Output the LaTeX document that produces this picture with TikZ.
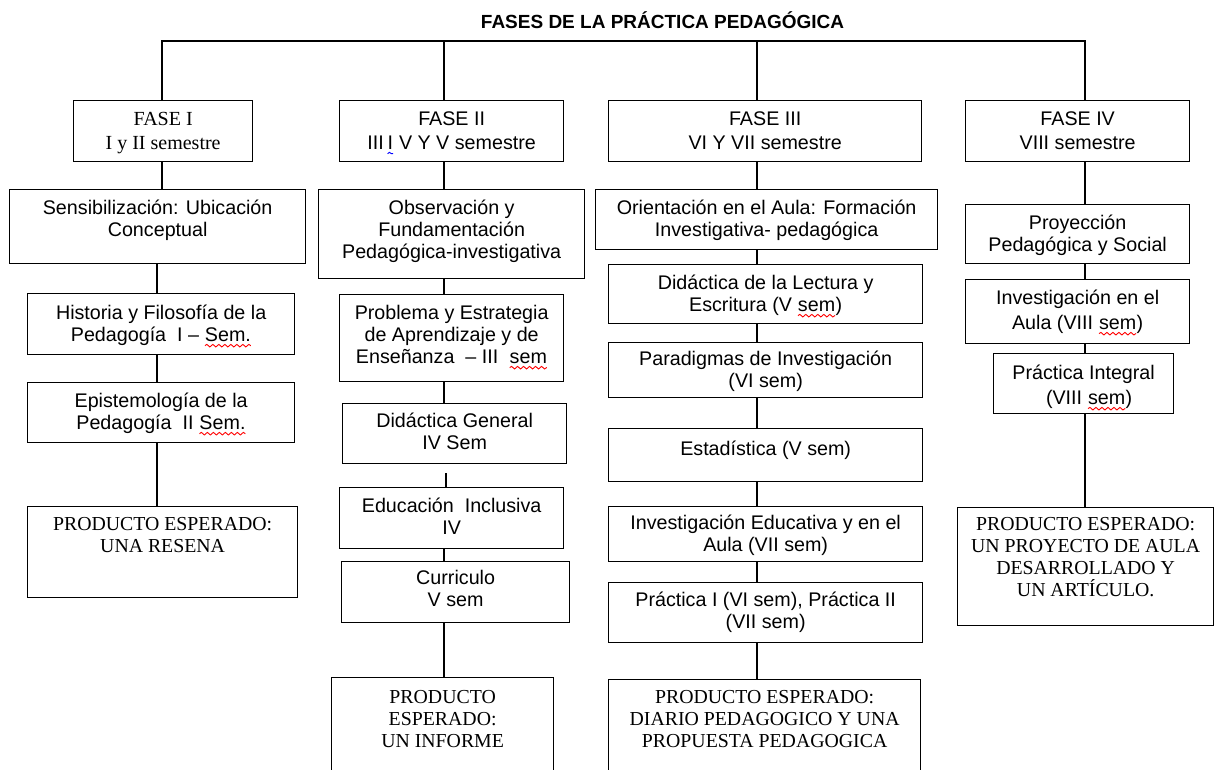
\documentclass[tikz,border=0pt]{standalone}
\usepackage{fontspec}
\setmainfont{Liberation Serif}
\setsansfont{Liberation Sans}
\usetikzlibrary{decorations.pathmorphing}
\newcommand\wavemark[2]{\tikz[baseline=(sq.base)]{\node[inner sep=0pt,outer sep=0pt] (sq) {#2};
  \draw[#1,line width=0.9pt,decorate,decoration={snake,amplitude=1.3pt,segment length=6pt}]
  ([yshift=-4pt]sq.base west) -- ([yshift=-4pt]sq.base east);}}
\newcommand\rwave[1]{\wavemark{red}{#1}}
\newcommand\bwave[1]{\wavemark{blue}{#1}}
\tikzset{
  box/.style={draw=black, line width=1.3pt, inner sep=0pt, fill=white,
    font=\sffamily\fontsize{19.7}{22}\selectfont},
  fasebox/.style={font=\sffamily\fontsize{19.7}{24}\selectfont},
  serifbox/.style={font=\rmfamily\fontsize{19.8}{22}\selectfont},
  seriffase/.style={font=\rmfamily\fontsize{20}{24}\selectfont},
  widebox/.style={font=\sffamily\fontsize{19.7}{25}\selectfont},
  conn/.style={draw=black, line width=1.3pt},
  titlestyle/.style={font=\sffamily\bfseries\fontsize{19}{22}\selectfont, inner sep=0pt}
}
% #1 style, #2 name, #3 x1, #4 y1, #5 x2, #6 y2, #7 centre of first text line, #8 text
\newcommand\bx[8][]{%
  \node[box,#1,anchor=north west] (#2) at (#3,#4)
  {\parbox[b][\dimexpr #6pt-#4pt\relax][t]{\dimexpr #5pt-#3pt\relax}{\centering
   \vspace*{\dimexpr #7pt-#4pt-12pt\relax}\rule{0pt}{19pt}#8\par}};}
\begin{document}
\begin{tikzpicture}[x=1pt,y=-1pt]
\useasboundingbox (0,0) rectangle (1214,769);
\fill[white] (0,0) rectangle (1214,769);
\clip (0,0) rectangle (1214,769);

\node[titlestyle, anchor=base] (title) at (662.5,28) {FASES DE LA PRÁCTICA PEDAGÓGICA};

% column x positions of connectors
\coordinate (top) at (0,41);
\coordinate (xa) at (162,0);
\coordinate (xb) at (157,0);
\coordinate (xc) at (444,0);
\coordinate (xd) at (757,0);
\coordinate (xe) at (1085,0);

% FASE boxes
\bx[seriffase]{F1}{73}{100}{252}{161}{118}{FASE I\\I y II semestre}
\bx[fasebox]{F2}{339}{100}{563}{161}{118}{FASE II\\III\,\bwave{I} V Y V semestre}
\bx[fasebox]{F3}{608}{100}{921}{161}{118}{FASE III\\VI Y VII semestre}
\bx[fasebox]{F4}{965}{100}{1189}{161}{118}{FASE IV\\VIII semestre}

% Column I
\bx{S1}{9}{189}{305}{263}{207}{Sensibilización: Ubicación\\Conceptual}
\bx{H1}{27}{293}{294}{354}{312}{Historia y Filosofía de la\\Pedagogía\ \ I – \rwave{Sem.}}
\bx{E1}{27}{382}{294}{442}{400}{Epistemología de la\\Pedagogía\ \ II \rwave{Sem.}}
\bx[serifbox]{P1}{27}{506}{297}{597}{523}{PRODUCTO ESPERADO:\\UNA RESENA}

% Column II
\bx{O2}{318}{189}{584}{278}{207}{Observación y\\Fundamentación\\Pedagógica-investigativa}
\bx{Pr2}{339}{294}{563}{381}{312}{Problema y Estrategia\\de Aprendizaje y de\\Enseñanza\ \ – III\ \ \rwave{sem}}
\bx{D2}{342}{403}{566}{463}{420}{Didáctica General\\IV Sem}
\bx{Ed2}{339}{487}{563}{548}{505}{Educación\ \ Inclusiva\\IV}
\bx{C2}{341}{561}{569}{622}{577}{Curriculo\\V sem}
\bx[serifbox]{PR2}{331}{677}{553}{790}{696}{PRODUCTO\\ESPERADO:\\UN INFORME}

% Column III
\bx{O3}{595}{189}{937}{249}{207}{Orientación en el Aula: Formación\\Investigativa- pedagógica}
\bx{L3}{608}{264}{922}{323}{282}{Didáctica de la Lectura y\\Escritura (V \rwave{sem})}
\bx{Pa3}{608}{342}{922}{397}{358}{Paradigmas de Investigación\\(VI sem)}
\bx{Es3}{608}{428}{922}{481}{448}{Estadística (V sem)}
\bx{IE3}{608}{506}{922}{561}{522}{Investigación Educativa y en el\\Aula (VII sem)}
\bx{PI3}{608}{582}{922}{642}{599}{Práctica I (VI sem), Práctica II\\(VII sem)}
\bx[serifbox]{PR3}{608}{679}{920}{790}{696}{PRODUCTO ESPERADO:\\DIARIO PEDAGOGICO Y UNA\\PROPUESTA PEDAGOGICA}

% Column IV
\bx{Py4}{965}{204}{1189}{263}{222}{Proyección\\Pedagógica y Social}
\bx[widebox]{IA4}{965}{279}{1189}{343}{297}{Investigación en el\\Aula (VIII \rwave{sem})}
\bx[widebox]{PIn4}{993}{353}{1173}{413}{372}{Práctica Integral\\\ \ (VIII \rwave{sem})}
\bx[serifbox]{PR4}{957}{507}{1213}{625}{523}{PRODUCTO ESPERADO:\\UN PROYECTO DE AULA\\DESARROLLADO Y\\UN ARTÍCULO.}

% top bracket
\draw[conn] (xa |- F1.north) -- (xa |- top) -- (xe |- top) -- (xe |- F4.north);
\draw[conn] (xc |- top) -- (xc |- F2.north);
\draw[conn] (xd |- top) -- (xd |- F3.north);

% column I connectors
\draw[conn] (xa |- F1.south) -- (xa |- S1.north);
\draw[conn] (xb |- S1.south) -- (xb |- H1.north);
\draw[conn] (xb |- H1.south) -- (xb |- E1.north);
\draw[conn] (xb |- E1.south) -- (xb |- P1.north);

% column II connectors
\draw[conn] (xc |- F2.south) -- (xc |- O2.north);
\draw[conn] (xc |- O2.south) -- (xc |- Pr2.north);
\draw[conn] (xc |- Pr2.south) -- (xc |- D2.north);
\coordinate (gap2) at (446,473);
\draw[conn] (gap2) -- (gap2 |- Ed2.north);
\draw[conn] (xc |- Ed2.south) -- (xc |- C2.north);
\draw[conn] (xc |- C2.south) -- (xc |- PR2.north);

% column III connectors
\draw[conn] (xd |- F3.south) -- (xd |- O3.north);
\draw[conn] (xd |- O3.south) -- (xd |- L3.north);
\draw[conn] (xd |- L3.south) -- (xd |- Pa3.north);
\draw[conn] (xd |- Pa3.south) -- (xd |- Es3.north);
\draw[conn] (xd |- Es3.south) -- (xd |- IE3.north);
\draw[conn] (xd |- IE3.south) -- (xd |- PI3.north);
\draw[conn] (xd |- PI3.south) -- (xd |- PR3.north);

% column IV connectors
\draw[conn] (xe |- F4.south) -- (xe |- Py4.north);
\draw[conn] (xe |- Py4.south) -- (xe |- IA4.north);
\draw[conn] (xe |- IA4.south) -- (xe |- PIn4.north);
\draw[conn] (xe |- PIn4.south) -- (xe |- PR4.north);
\end{tikzpicture}
\end{document}
